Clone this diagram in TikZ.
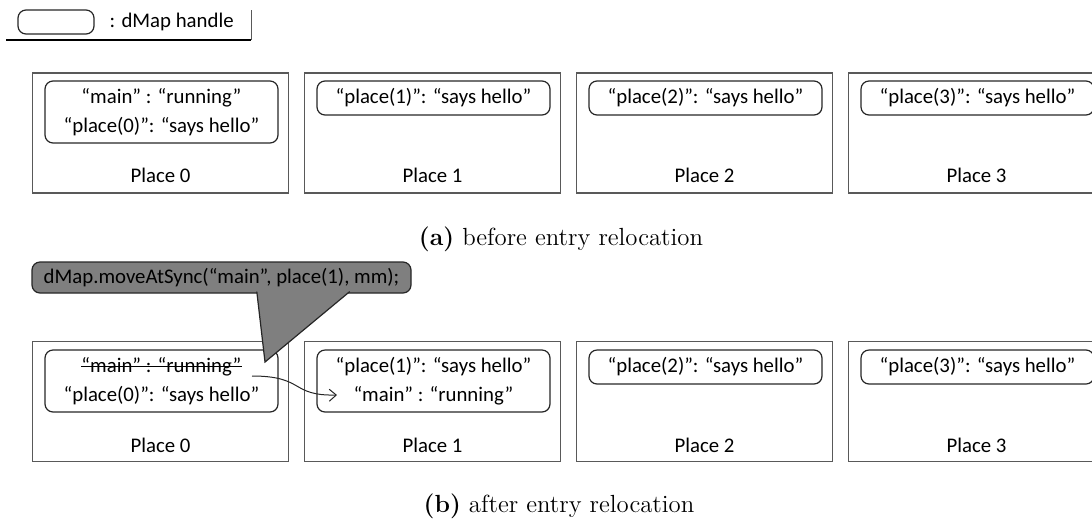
\documentclass[tikz,border=0pt]{standalone}
\usepackage{fontspec}
\usepackage{tikz}
\usetikzlibrary{arrows.meta,positioning}
\newfontfamily\calibri{Carlito}
\newcommand\entryfont{\calibri\fontsize{10.4}{14.5}\selectfont}
% text with a line through it
\newcommand\crossedout[1]{\setbox0\hbox{#1}%
  \rlap{\raisebox{0.28em}{\rule{\wd0}{0.45pt}}}\box0}
\definecolor{MapDark}{HTML}{262626}
\definecolor{MapLine}{HTML}{595959}
\definecolor{MapGray}{HTML}{7F7F7F}
\tikzset{
  placebox/.style={draw=MapLine, line width=0.6pt, minimum width=128pt,
                   minimum height=60pt, inner sep=0pt},
  placename/.style={font=\entryfont, text=black},
  handle/.style={draw=MapDark, rounded corners=4pt, line width=0.6pt,
                 align=center, font=\entryfont, minimum width=116.5pt,
                 minimum height=17pt, inner sep=1pt},
  entrytwo/.style={minimum height=31pt},
  callbox/.style={draw=MapDark, fill=MapGray, rounded corners=4pt,
                  line width=0.6pt, font=\entryfont, minimum width=189.5pt,
                  minimum height=15.5pt, inner sep=1pt},
  callpointer/.style={draw=MapDark, fill=MapGray, line width=0.6pt,
                      line join=miter},
  movearrow/.style={-{Straight Barb[length=3.5pt,width=6pt]}, line width=0.5pt,
                    MapDark},
  subcap/.style={font=\fontsize{12.4}{15}\selectfont},
}

\begin{document}
\begin{tikzpicture}[x=0.5pt,y=-0.5pt]
  \clip (0,0) rectangle (1092,521);

  % legend
  \node[handle, minimum width=38pt, minimum height=12pt] (key) at (56,22) {};
  \node[placename, right=4pt of key] (keytext) {: dMap handle};
  \draw[MapLine, line width=0.5pt] (251,10) -- (251,40);
  \draw[black, line width=1pt] (6,40) -- (251.25,40);

  % places, before and after
  \foreach \i in {0,...,3} {
    \node[placebox] (top\i) at (160.5+272*\i,133) {};
    \node[placename] (topname\i) at (160.5+272*\i,175) {Place \i};
    \node[placebox] (bot\i) at (160.5+272*\i,401.5) {};
    \node[placename] (botname\i) at (160.5+272*\i,445) {Place \i};
  }

  % map entries before the move
  \node[handle, entrytwo] (topmap0) at (161.5,112)
       {“main” : “running”\\“place(0)”: “says hello”};
  \foreach \i in {1,2,3}
    \node[handle] (topmap\i) at (161.5+272*\i,98) {“place(\i)”: “says hello”};

  \node[subcap] (capa) at (561,239) {\textbf{(a)} before entry relocation};

  % map entries after the move
  \node[handle, entrytwo] (botmap0) at (161.5,381)
       {\crossedout{“main” : “running”}\\“place(0)”: “says hello”};
  \node[handle, entrytwo] (botmap1) at (433.5,381)
       {“place(1)”: “says hello”\\“main” : “running”};
  \foreach \i in {2,3}
    \node[handle] (botmap\i) at (161.5+272*\i,367) {“place(\i)”: “says hello”};

  % moved entry
  \coordinate (movesrc) at (252,376);
  \coordinate (movedst) at (337,395);
  \draw[movearrow] (movesrc) .. controls (305,376) and (290,396) .. (movedst);

  % call balloon
  \node[callbox] (call) at (221.5,277.5) {dMap.moveAtSync(“main”, place(1), mm);};
  \coordinate (calltip) at (265,362);
  \filldraw[callpointer] (256.8,291.6) -- (calltip) -- (349.7,291.6);

  \node[subcap] (capb) at (559,506) {\textbf{(b)} after entry relocation};

\end{tikzpicture}
\end{document}
